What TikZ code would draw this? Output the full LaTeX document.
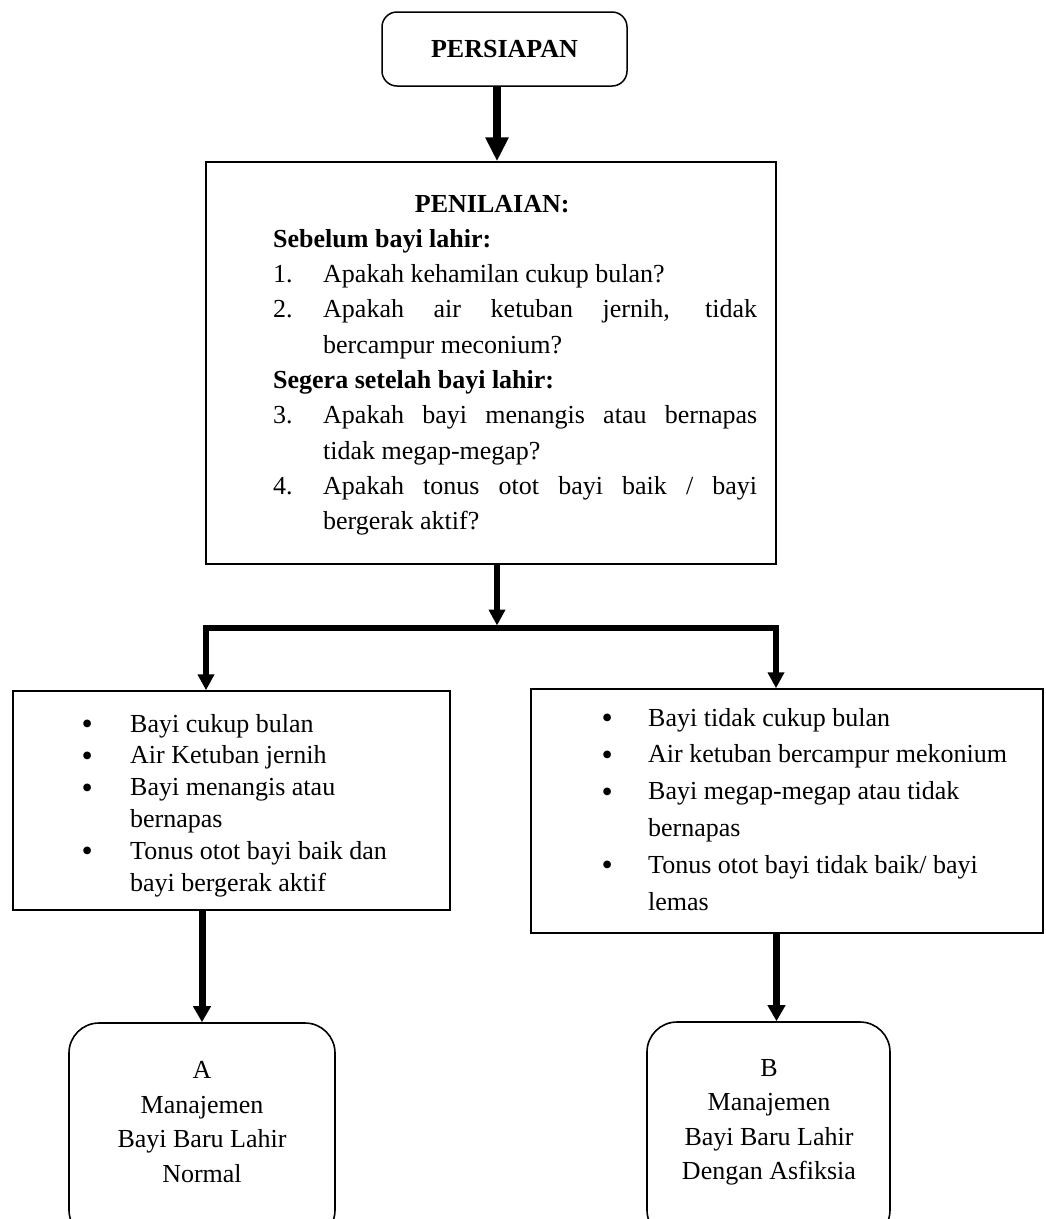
\documentclass[tikz,border=0pt]{standalone}
\usepackage{fontspec}
\setmainfont{Liberation Serif}
\usetikzlibrary{arrows.meta}
\newcommand{\ctrat}[2]{\makebox[0pt][l]{\hspace*{#1}\makebox[0pt]{#2}}}
\newcommand{\blt}{\raisebox{-2.5pt}{\fontsize{32}{32}\selectfont •}}
\begin{document}
\begin{tikzpicture}[x=1pt,y=-1pt,
  boxed/.style={draw, line width=1.5pt, inner sep=0pt, rectangle},
  txt/.style={inner sep=0pt, anchor=base west},
  arr/.style={line width=5.5pt, line join=miter, -{Triangle[width=16pt,length=16pt]}},
  downarr/.style={line width=7pt, -{Triangle[width=17pt,length=16pt]}},
  bigarr/.style={line width=7.5pt, -{Triangle[width=22pt,length=24pt]}},
]
\useasboundingbox (0,0) rectangle (1045,1219);
\clip (0,0) rectangle (1045,1219);
\fill[white] (0,0) rectangle (1045,1219);

% top box
\node[boxed, rounded corners=15pt, minimum width=245pt, minimum height=74pt,
      font=\fontsize{26}{30}\selectfont\bfseries] (persiapan) at (504.5,49) {PERSIAPAN};

% assessment box
\node[boxed, minimum width=570pt, minimum height=402pt] (pen) at (491,363) {};
\node[txt, font=\fontsize{26}{35.33}\selectfont] (pentext) at (273,212) {\begin{minipage}[t]{500pt}
\ctrat{219pt}{\bfseries PENILAIAN:}\\
\textbf{Sebelum bayi lahir:}\\
\makebox[50pt][l]{1.}Apakah kehamilan cukup bulan?\\
\makebox[50pt][l]{2.}\makebox[434pt][s]{Apakah air ketuban jernih, tidak}\\
\hspace*{50pt}bercampur meconium?\\
\textbf{Segera setelah bayi lahir:}\\
\makebox[50pt][l]{3.}\makebox[434pt][s]{Apakah bayi menangis atau bernapas}\\
\hspace*{50pt}tidak megap-megap?\\
\makebox[50pt][l]{4.}\makebox[434pt][s]{Apakah tonus otot bayi baik / bayi}\\
\hspace*{50pt}bergerak aktif?
\end{minipage}};

% left result box
\node[boxed, minimum width=437pt, minimum height=219pt] (leftbox) at (231.5,800.5) {};
\node[txt, font=\fontsize{26}{31.8}\selectfont] (lefttext) at (81.5,732) {\begin{minipage}[t]{360pt}
\makebox[48.5pt][l]{\blt}Bayi cukup bulan\\
\makebox[48.5pt][l]{\blt}Air Ketuban jernih\\
\makebox[48.5pt][l]{\blt}Bayi menangis atau\\
\hspace*{48.5pt}bernapas\\
\makebox[48.5pt][l]{\blt}Tonus otot bayi baik dan\\
\hspace*{48.5pt}bayi bergerak aktif
\end{minipage}};

% right result box
\node[boxed, minimum width=512pt, minimum height=244pt] (rightbox) at (787,811) {};
\node[txt, font=\fontsize{26}{36.8}\selectfont] (righttext) at (601.5,726) {\begin{minipage}[t]{430pt}
\makebox[46.5pt][l]{\blt}Bayi tidak cukup bulan\\
\makebox[46.5pt][l]{\blt}Air ketuban bercampur mekonium\\
\makebox[46.5pt][l]{\blt}Bayi megap-megap atau tidak\\
\hspace*{46.5pt}bernapas\\
\makebox[46.5pt][l]{\blt}Tonus otot bayi tidak baik/ bayi\\
\hspace*{46.5pt}lemas
\end{minipage}};

% outcome boxes
\node[boxed, line width=1.6pt, rounded corners=30pt, minimum width=266pt, minimum height=217pt] (abox) at (202,1131.5) {};
\node[inner sep=0pt, anchor=base, font=\fontsize{26}{34.6}\selectfont] (atext) at (202,1078.5) {\begin{minipage}[t]{260pt}\centering
A\\
Manajemen\\
Bayi Baru Lahir\\
Normal
\end{minipage}};

\node[boxed, line width=1.6pt, rounded corners=30pt, minimum width=243pt, minimum height=218pt] (bbox) at (768.5,1131) {};
\node[inner sep=0pt, anchor=base, font=\fontsize{26}{34.6}\selectfont] (btext) at (769,1076) {\begin{minipage}[t]{260pt}\centering
B\\
Manajemen\\
Bayi Baru Lahir\\
Dengan Asfiksia
\end{minipage}};

% connectors
\coordinate (jm) at (497,628);
\coordinate (jtop) at (497,625.5);
\coordinate (jl) at (206,628);
\coordinate (jr) at (776,628);

\draw[bigarr] ([xshift=-7.5pt]persiapan.south) -- ([xshift=6pt]pen.north);
\draw[arr] ([xshift=6pt]pen.south) -- (jtop);
\draw[arr] (jm) -- (jl) -- (jl |- leftbox.north);
\draw[arr] (jm) -- (jr) -- (jr |- rightbox.north);
\draw[downarr] (abox.north |- leftbox.south) -- (abox.north);
\draw[downarr] ([xshift=8pt]bbox.north |- rightbox.south) -- ([xshift=8pt]bbox.north);
\end{tikzpicture}
\end{document}
